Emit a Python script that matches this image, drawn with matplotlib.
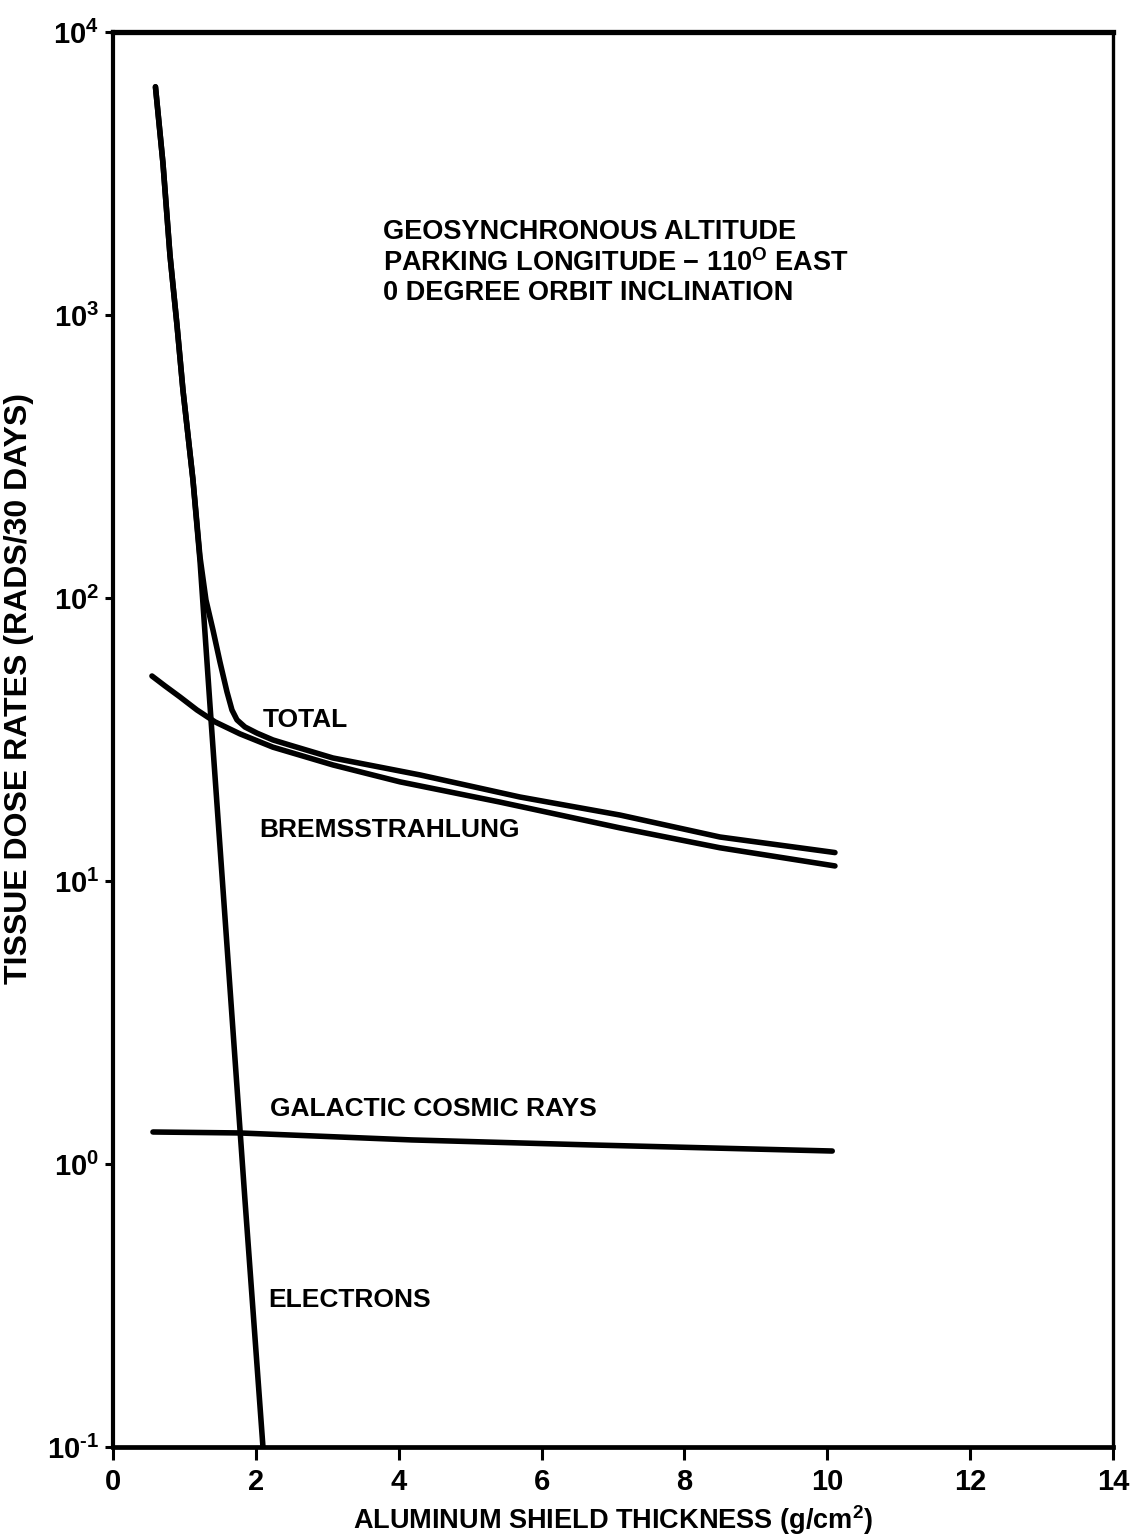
import numpy as np
import matplotlib
matplotlib.use("Agg")
import matplotlib.pyplot as plt
from matplotlib.ticker import FixedLocator, NullLocator

# Dose rate vs aluminum shield thickness (geosynchronous orbit)

# DATA
electrons_x = [0.595, 0.700, 0.798, 0.896, 0.980, 1.120, 1.218, 1.358, 1.568, 1.848, 2.100]
electrons_y = [6400, 3440, 1630, 923, 543, 261, 136, 41.9, 7.46, 0.746, 0.10]

total_x = [0.595, 0.700, 0.798, 0.896, 0.980, 1.120, 1.218, 1.302, 1.400, 1.498, 1.596,
           1.666, 1.736, 1.848, 2.016, 2.240, 2.478, 3.080, 4.298, 5.698, 7.098, 8.498, 10.108]
total_y = [6400, 3440, 1630, 923, 543, 262, 140, 98.4, 77.1, 59.4, 46.6,
           40.2, 37.1, 35.0, 33.3, 31.5, 30.2, 27.2, 23.7, 19.8, 17.1, 14.3, 12.6]

brems_x = [0.546, 0.728, 0.938, 1.176, 1.428, 1.778, 2.240, 3.080, 4.018, 5.418, 7.098, 8.498, 10.108]
brems_y = [53.0, 48.9, 44.7, 40.2, 36.5, 33.1, 29.7, 25.7, 22.4, 19.0, 15.4, 13.1, 11.3]

gcr_x = [0.56, 1.77, 4.18, 6.71, 10.07]
gcr_y = [1.297, 1.287, 1.216, 1.167, 1.111]

x_ticks = [0, 2, 4, 6, 8, 10, 12, 14]
y_ticks = [1e-1, 1e0, 1e1, 1e2, 1e3, 1e4]
y_tick_labels = [r"$10^{\text{-}1}$", r"$10^{0}$", r"$10^{1}$", r"$10^{2}$", r"$10^{3}$", r"$10^{4}$"]

# label text, x, y (data coords)
curve_labels = [
    ("TOTAL", 2.1, 37.0),
    ("BREMSSTRAHLUNG", 2.05, 15.2),
    ("GALACTIC COSMIC RAYS", 2.2, 1.57),
    ("ELECTRONS", 2.17, 0.33),
]
note_lines = ["GEOSYNCHRONOUS ALTITUDE",
              r"PARKING LONGITUDE $-$ 110$^{O}$ EAST",
              "0 DEGREE ORBIT INCLINATION"]

# STYLE
plt.rcParams['font.family'] = ['Liberation Sans', 'DejaVu Sans']
plt.rcParams['font.weight'] = 'bold'
plt.rcParams['mathtext.fontset'] = 'custom'
plt.rcParams['mathtext.rm'] = 'Liberation Sans:bold'
plt.rcParams['mathtext.it'] = 'Liberation Sans:bold'
plt.rcParams['mathtext.bf'] = 'Liberation Sans:bold'

fig = plt.figure(figsize=(11.33, 15.38), dpi=100)
ax = fig.add_axes([0.0997, 0.0592, 0.8826, 0.92])

lw = 4.0
for xs, ys in [(electrons_x, electrons_y), (total_x, total_y),
               (brems_x, brems_y), (gcr_x, gcr_y)]:
    ax.plot(xs, ys, color='black', lw=lw, solid_capstyle='round', solid_joinstyle='round')

ax.set_yscale('log')
ax.set_xlim(0, 14)
ax.set_ylim(1e-1, 1e4)

ax.xaxis.set_major_locator(FixedLocator(x_ticks))
ax.yaxis.set_major_locator(FixedLocator(y_ticks))
ax.yaxis.set_minor_locator(NullLocator())
ax.set_xticklabels([str(t) for t in x_ticks], fontsize=21, fontweight='bold')
ax.set_yticklabels(y_tick_labels, fontsize=21)
ax.tick_params(axis='x', direction='out', length=9, width=2.2, pad=6)
ax.tick_params(axis='y', direction='out', length=6, width=2.2, pad=4)

for side, w in [('top', 3.8), ('left', 3.0), ('right', 2.4), ('bottom', 3.4)]:
    ax.spines[side].set_linewidth(w)

ax.set_xlabel("ALUMINUM SHIELD THICKNESS (g/cm$^{2}$)", fontsize=19.5, fontweight='bold')
ax.xaxis.set_label_coords(0.5, -0.040)
ax.set_ylabel("TISSUE DOSE RATES (RADS/30 DAYS)", fontsize=23, fontweight='bold')
ax.yaxis.set_label_coords(-0.079, 0.536)

for text, x, y in curve_labels:
    ax.text(x, y, text, fontsize=19, fontweight='bold', va='center', ha='left')

for i, line in enumerate(note_lines):
    ax.text(3.78, 10 ** (3.293 - i * 0.108), line, fontsize=19.5, fontweight='bold',
            va='center', ha='left')

fig.savefig("out.png", dpi=100)
